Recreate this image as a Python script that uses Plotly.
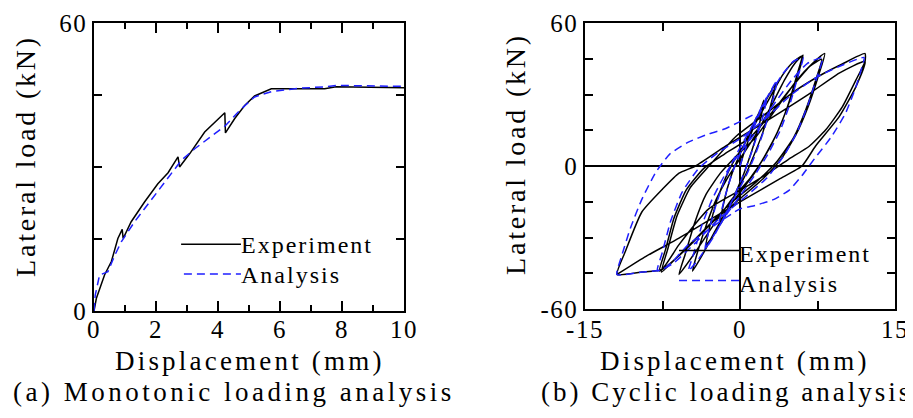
import plotly.graph_objects as go

# ---------------- data ----------------
# (a) monotonic
mono_exp_x = [0, 0.075, 0.34, 0.56, 0.77, 0.91, 0.94, 1.2, 1.63, 2.06, 2.39, 2.71, 2.76, 3.09,
              3.57, 3.95, 4.22, 4.24, 4.54, 4.86, 5.18, 5.72, 7.44, 7.81, 10]
mono_exp_y = [0, 2.6, 7.5, 10.3, 15.1, 17.0, 15.1, 18.6, 22.7, 26.5, 28.8, 32.1, 30.0, 32.8,
              37.3, 39.7, 41.3, 37.1, 40.1, 42.8, 44.8, 46.3, 46.3, 46.7, 46.5]
mono_ana_x = [0, 0.04, 0.18, 0.45, 0.67, 0.88, 1.31, 1.85, 2.28, 2.82, 3.25, 3.68, 4.22, 4.75,
              5.18, 5.72, 6.58, 7.44, 7.81, 10]
mono_ana_y = [0, 3.3, 7.5, 8.2, 11.6, 14.4, 18.6, 23.1, 26.9, 31.4, 33.8, 35.9, 38.5, 42.1,
              44.6, 45.7, 46.4, 46.7, 47.0, 46.8]

# (b) cyclic - experiment
cyc_exp_x = [0, 0.5, 1.2, 1.8, 2.3, 2.0, 1.4, 0.8, 0.3, -0.5, -1.2, -2.0, -1.7, -1.2, -0.6, 0,
             0.8, 1.8, 2.7, 3.45, 3.0, 2.2, 1.3, 0.5, -0.6, -1.8, -2.7, -3.3, -2.9, -2.2, -1.4, -0.6, 0.4,
             1.5, 2.8, 4.1, 5.0, 6.0, 5.5, 4.6, 3.6, 2.5, 1.4, 0.2, -1.2, -2.5, -3.6, -4.6,
             -4.1, -3.2, -2.3, -1.2, 0,
             1.5, 3.0, 4.3, 5.3, 6.1, 5.6, 4.7, 3.6, 2.4, 1.0, -0.8, -2.6, -4.3, -5.9,
             -5.3, -4.4, -3.3, -1.9, -0.4,
             1.5, 3.5, 5.5, 7.0, 8.2, 7.6, 6.6, 5.4, 4.0, 2.3, 0.2, -2.5, -5.0, -6.8, -7.8,
             -7.2, -6.4, -5.2, -3.5, -1.5,
             1.0, 3.0, 5.0, 6.8, 7.9, 7.4, 6.4, 5.2, 3.6, 1.5, -1.0, -3.5, -5.8, -7.6,
             -7.0, -6.1, -4.8, -3.0, -0.4, 2.5, 5.4, 8.0, 9.9, 12.1,
             12.1, 11.2, 9.9, 8.3, 6.7, 4.7, 2.8, 0.2, -3.0, -5.9, -7.6, -9.5, -11.9,
             -11.1, -9.5, -7.5, -5.9, -4.3, -1.4, 2.2, 6.7, 9.6, 12.1,
             11.2, 9.6, 7.3, 6.0, 3.8, 0.5, -2.7, -5.9, -9.1, -11.4, -11.9]
cyc_exp_y = [0, 7, 15, 21, 27.6, 20, 10, 2, -4, -12, -19, -25, -18, -9, -1, 5,
             13, 22, 29, 34.5, 26, 14, 4, -4, -13, -23, -30, -33.1, -25, -14, -5, 2, 9,
             18, 28, 38, 43, 46.2, 38, 25, 14, 5, -3, -10, -18, -28, -37, -44.1,
             -36, -24, -14, -5, 3,
             13, 25, 36, 43, 46.5, 38, 26, 14, 4, -5, -14, -25, -36, -45.5,
             -37, -24, -12, -3, 4,
             12, 24, 36, 43, 47.2, 38, 25, 13, 3, -5, -13, -23, -34, -41, -44.1,
             -35, -22, -10, -1, 5,
             12, 22, 33, 42, 44.8, 37, 24, 12, 2, -7, -16, -27, -37, -44.5,
             -35, -21, -9, 0, 12.4, 22, 31.7, 38.6, 42.8, 47.2,
             43.9, 35.9, 24.8, 15.2, 8.3, 2.8, -2.8, -9.7, -17.9, -33, -43.5, -44.5, -45.5,
             -35.9, -19.3, -9.7, -3, 0, 8.3, 17.9, 30.3, 39, 43.9,
             33.1, 20.7, 8.3, 0, -5.5, -13.8, -22, -30.3, -37.9, -44.1, -45.5]

# (b) cyclic - analysis
cyc_ana_x = [0, 0.6, 1.4, 2.1, 2.6, 2.3, 1.6, 0.9, 0.2, -0.6, -1.4, -2.1, -1.8, -1.2, -0.5, 0.2,
             1.0, 2.0, 2.9, 3.6, 3.2, 2.4, 1.5, 0.6, -0.5, -1.6, -2.6, -3.4, -3.0, -2.3, -1.5, -0.7, 0.3,
             1.6, 3.0, 4.2, 5.2, 6.1, 5.7, 4.9, 3.9, 2.7, 1.4, 0.1, -1.4, -2.8, -4.0, -5.0,
             -4.5, -3.7, -2.7, -1.5, -0.3,
             1.5, 3.3, 5.0, 6.5, 8.0, 7.5, 6.6, 5.5, 4.2, 2.6, 0.5, -2.0, -4.5, -6.5, -8.0,
             -7.5, -6.7, -5.6, -4.0, -2.0, 0.2,
             2.5, 5.0, 7.5, 10.0, 12.0, 11.7, 11.2, 10.2, 8.8, 7.2, 6.0, 4.8, 3.3, 1.5, 0,
             -2.5, -5.0, -6.5, -7.5, -9.5, -11.9,
             -11.4, -10.6, -9.5, -8.2, -6.8, -5.0, -3.0, -1.5, -0.3, 1.5]
cyc_ana_y = [0, 8, 17, 24, 29, 22, 12, 3, -5, -13, -20, -26, -19, -9, 0, 7,
             15, 24, 31, 36, 28, 16, 5, -4, -13, -22, -30, -35, -27, -16, -6, 2, 10,
             20, 31, 39, 44, 45.5, 39, 27, 15, 5, -4, -12, -21, -31, -39, -44,
             -37, -25, -14, -4, 4,
             14, 26, 36, 43, 45.5, 38, 26, 14, 4, -5, -13, -22, -33, -41, -44,
             -36, -23, -11, -1, 6, 12,
             20, 30, 37.5, 42.5, 45.5, 40, 33, 22, 12, 3, -4, -10, -14, -16.5, -18,
             -25, -33, -40, -43.5, -44.5, -45.5,
             -37, -26, -14, -3, 5, 10, 13.5, 15.5, 18, 22]

# tick labels
mono_x_ticks = [0, 2, 4, 6, 8, 10]
mono_x_minor = [1, 3, 5, 7, 9]
mono_y_ticks = [0, 15, 30, 45, 60]
mono_y_text = ["0", "", "", "", "60"]
cyc_x_ticks = [-15, -7.5, 0, 7.5, 15]
cyc_x_text = ["-15", "", "0", "", "15"]
cyc_y_ticks = [-60, -45, -30, -15, 0, 15, 30, 45, 60]
cyc_y_text = ["-60", "", "", "", "0", "", "", "", "60"]

# ---------------- figure ----------------
W, H = 913, 418
FONT = "Liberation Serif"
BLUE = "#1f1fff"


def px(x):
    return x / W


def py(y):
    return 1 - y / H


def sp(t, s):
    return f'<span style="letter-spacing:{s}px">{t}</span>'


fig = go.Figure()
fig.add_trace(go.Scatter(x=mono_exp_x, y=mono_exp_y, mode="lines", xaxis="x", yaxis="y",
                         line=dict(color="black", width=1.5), showlegend=False))
fig.add_trace(go.Scatter(x=mono_ana_x, y=mono_ana_y, mode="lines", xaxis="x", yaxis="y",
                         line=dict(color=BLUE, width=1.5, dash="8px,5px"), showlegend=False))
fig.add_trace(go.Scatter(x=cyc_exp_x, y=cyc_exp_y, mode="lines", xaxis="x2", yaxis="y2",
                         line=dict(color="black", width=1.5, shape="spline", smoothing=0.5),
                         showlegend=False))
fig.add_trace(go.Scatter(x=cyc_ana_x, y=cyc_ana_y, mode="lines", xaxis="x2", yaxis="y2",
                         line=dict(color=BLUE, width=1.5, dash="8px,5px", shape="spline", smoothing=0.5),
                         showlegend=False))

axis_common = dict(showline=True, linecolor="black", linewidth=1.5, mirror="ticks",
                   ticks="inside", tickcolor="black", tickwidth=1.5, showgrid=False,
                   automargin=False, ticklabeloverflow="allow",
                   tickfont=dict(family=FONT, size=25, color="black"))

fig.update_layout(
    template="none",
    width=W, height=H, margin=dict(l=0, r=0, t=0, b=0, pad=0, autoexpand=False),
    paper_bgcolor="white", plot_bgcolor="white", showlegend=False,
    font=dict(family=FONT, color="black"),
    xaxis=dict(domain=[px(86), px(396)], range=[0, 10], tickvals=mono_x_ticks,
               ticktext=[sp(str(v), 1.5) for v in mono_x_ticks], ticklen=10, zeroline=False,
               ticklabelstandoff=-5,
               minor=dict(tickvals=mono_x_minor, ticks="inside", ticklen=6,
                          tickcolor="black", tickwidth=1.5, showgrid=False),
               anchor="y", **axis_common),
    yaxis=dict(domain=[py(303), py(15)], range=[0, 60], tickvals=mono_y_ticks,
               ticktext=[sp(t, 1.5) for t in mono_y_text], ticklen=8, zeroline=False,
               anchor="x", **axis_common),
    xaxis2=dict(domain=[px(577), px(887)], range=[-15, 15], tickvals=cyc_x_ticks,
                ticktext=[sp(t, 1.5) for t in cyc_x_text], ticklen=8,
                ticklabelstandoff=-3,
                zeroline=True, zerolinecolor="black", zerolinewidth=1.5,
                anchor="y2", **axis_common),
    yaxis2=dict(domain=[py(301), py(15)], range=[-60, 60], tickvals=cyc_y_ticks,
                ticktext=[sp(t, 1.5) for t in cyc_y_text], ticklen=8,
                zeroline=True, zerolinecolor="black", zerolinewidth=1.5,
                anchor="x2", **axis_common),
)

# legend sample lines (drawn in axis coordinates)
fig.add_shape(type="line", xref="x", yref="y", x0=2.81, x1=4.74, y0=13.9, y1=13.9,
              line=dict(color="black", width=1.5))
fig.add_shape(type="line", xref="x", yref="y", x0=2.9, x1=4.74, y0=7.7, y1=7.7,
              line=dict(color=BLUE, width=1.5, dash="8px,5px"))
fig.add_shape(type="line", xref="x2", yref="y2", x0=-5.9, x1=0, y0=-35.5, y1=-35.5,
              line=dict(color="black", width=1.5))
fig.add_shape(type="line", xref="x2", yref="y2", x0=-5.9, x1=0, y0=-48, y1=-48,
              line=dict(color=BLUE, width=1.5, dash="8px,5px"))


def ann(text, x, y, size, xanchor="left", yanchor="middle", angle=0, spacing=3):
    fig.add_annotation(text=sp(text, spacing), x=px(x), y=py(y), xref="paper", yref="paper",
                       xanchor=xanchor, yanchor=yanchor, showarrow=False, textangle=angle,
                       borderpad=0, font=dict(family=FONT, size=size, color="black"))


ann("Experiment", 232, 237, 24, spacing=2)
ann("Analysis", 232, 267, 24, spacing=2)
ann("Experiment", 730, 246, 24, spacing=2)
ann("Analysis", 730, 276, 24, spacing=2)

ann("Lateral load (kN)", 17, 270, 28, xanchor="center", yanchor="bottom", angle=-90, spacing=2.8)
ann("Lateral load (kN)", 507, 268, 28, xanchor="center", yanchor="bottom", angle=-90, spacing=2.8)
ann("Displacement (mm)", 106, 353, 27, spacing=3.2)
ann("Displacement (mm)", 591, 353, 27, spacing=3.2)
ann("(a) Monotonic loading analysis", 4, 384, 27, spacing=3.5)
ann("(b) Cyclic loading analysis", 532, 384, 27, spacing=3)

fig.write_html("out.html")
